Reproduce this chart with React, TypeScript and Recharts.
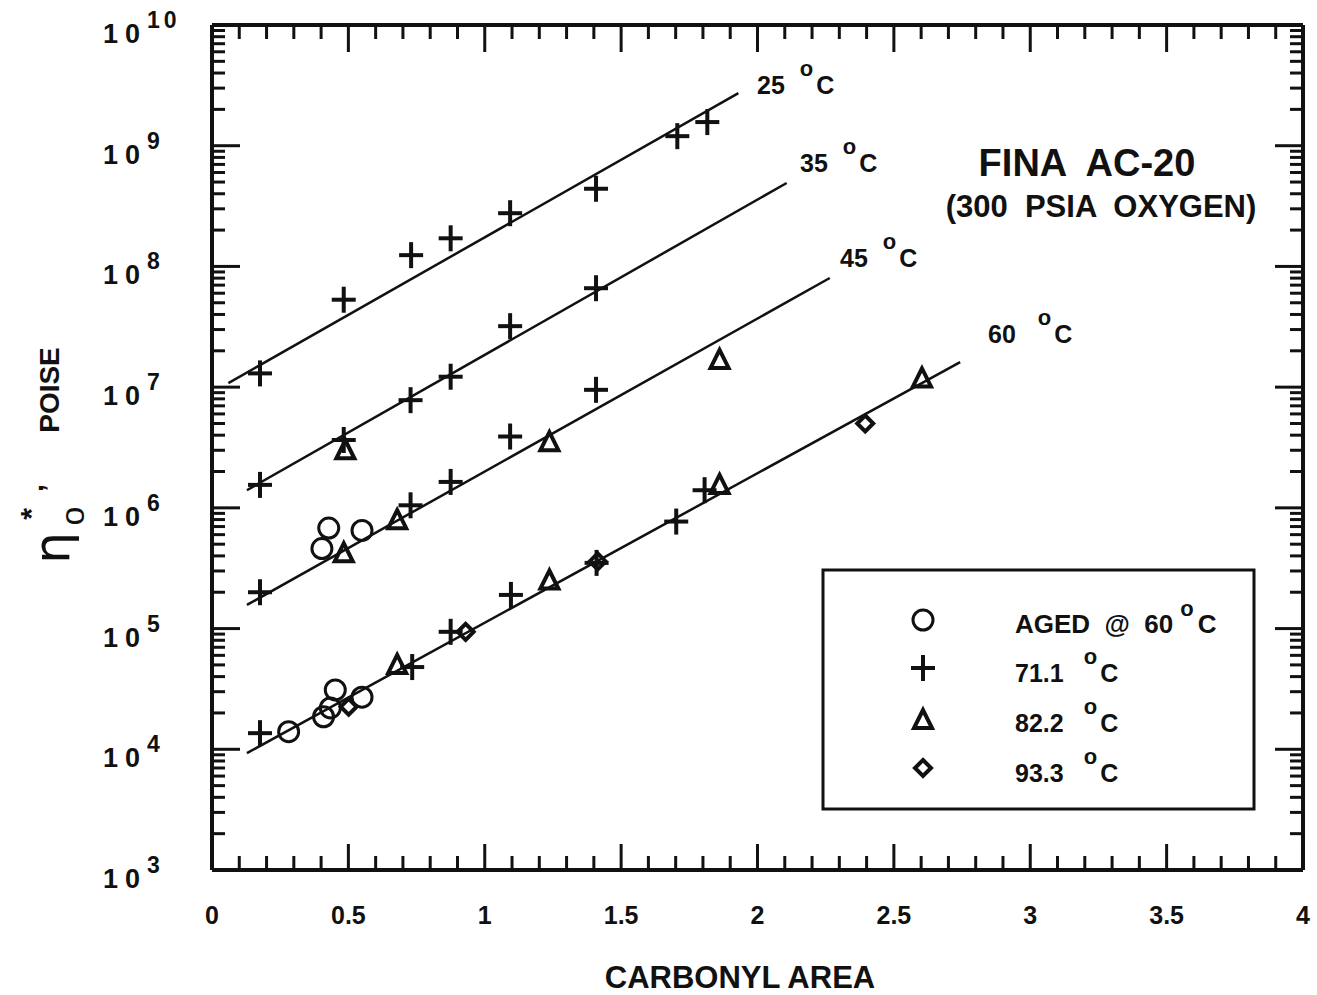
import React from 'react'
import { ComposedChart, Line, Scatter, XAxis, YAxis } from 'recharts'

const W = 1317
const H = 995
const ink = '#111'
const font = '"Liberation Sans", Arial, Helvetica, sans-serif'

// carbonyl area ticks (0.1 steps, labels every 0.5)
const xTicks = [
  0, 0.1, 0.2, 0.3, 0.4, 0.5, 0.6, 0.7, 0.8, 0.9, 1, 1.1, 1.2, 1.3, 1.4, 1.5, 1.6, 1.7, 1.8, 1.9, 2,
  2.1, 2.2, 2.3, 2.4, 2.5, 2.6, 2.7, 2.8, 2.9, 3, 3.1, 3.2, 3.3, 3.4, 3.5, 3.6, 3.7, 3.8, 3.9, 4,
]
const yDecades = [3, 4, 5, 6, 7, 8, 9]
const yMinor = [1, 2, 3, 4, 5, 6, 7, 8, 9]
const yTicks = yDecades.flatMap((d) => yMinor.map((m) => m * 10 ** d)).concat([1e10])

// 71.1 C (plus)
const plus711 = [
  { x: 0.176, y: 1.3e7 }, { x: 0.483, y: 5.3e7 }, { x: 0.73, y: 1.24e8 }, { x: 0.875, y: 1.71e8 },
  { x: 1.093, y: 2.76e8 }, { x: 1.408, y: 4.4e8 }, { x: 1.706, y: 1.2e9 }, { x: 1.816, y: 1.57e9 },
  { x: 0.176, y: 1.55e6 }, { x: 0.483, y: 3.65e6 }, { x: 0.728, y: 7.8e6 }, { x: 0.875, y: 1.22e7 },
  { x: 1.093, y: 3.2e7 }, { x: 1.408, y: 6.6e7 },
  { x: 0.176, y: 2.0e5 }, { x: 0.728, y: 1.05e6 }, { x: 0.875, y: 1.64e6 }, { x: 1.093, y: 3.9e6 },
  { x: 1.408, y: 9.5e6 },
  { x: 0.176, y: 1.36e4 }, { x: 0.734, y: 4.8e4 }, { x: 0.875, y: 9.4e4 }, { x: 1.096, y: 1.9e5 },
  { x: 1.41, y: 3.5e5 }, { x: 1.702, y: 7.7e5 }, { x: 1.806, y: 1.4e6 },
]
// aged @ 60 C (circle)
const aged60 = [
  { x: 0.281, y: 1.4e4 }, { x: 0.409, y: 1.86e4 }, { x: 0.434, y: 2.2e4 }, { x: 0.452, y: 3.1e4 },
  { x: 0.55, y: 2.7e4 }, { x: 0.403, y: 4.6e5 }, { x: 0.428, y: 6.8e5 }, { x: 0.55, y: 6.5e5 },
]
// 82.2 C (triangle)
const tri822 = [
  { x: 0.489, y: 3.0e6 }, { x: 0.483, y: 4.2e5 }, { x: 0.679, y: 7.9e5 }, { x: 1.237, y: 3.5e6 },
  { x: 1.861, y: 1.68e7 }, { x: 0.679, y: 5.0e4 }, { x: 1.237, y: 2.5e5 }, { x: 1.861, y: 1.55e6 },
  { x: 2.603, y: 1.18e7 },
]
// 93.3 C (diamond)
const dia933 = [
  { x: 0.501, y: 2.25e4 }, { x: 0.93, y: 9.4e4 }, { x: 1.414, y: 3.6e5 }, { x: 2.395, y: 5.0e6 },
]

// fitted lines
const fit25 = [{ x: 0.06, y: 1.08e7 }, { x: 1.93, y: 2.73e9 }]
const fit35 = [{ x: 0.128, y: 1.4e6 }, { x: 2.107, y: 4.91e8 }]
const fit45 = [{ x: 0.128, y: 1.57e5 }, { x: 2.265, y: 8.02e7 }]
const fit60 = [{ x: 0.128, y: 9.29e3 }, { x: 2.743, y: 1.61e7 }]

const isHalf = (v: number) => Math.abs(v * 2 - Math.round(v * 2)) < 1e-6
const isDecade = (v: number) => {
  const e = Math.log10(v)
  return Math.abs(e - Math.round(e)) < 1e-6
}

const PlusMark = ({ cx, cy }: any) => (
  <g stroke={ink} strokeWidth={4}>
    <line x1={cx - 12} x2={cx + 12} y1={cy} y2={cy} />
    <line x1={cx} x2={cx} y1={cy - 13} y2={cy + 13} />
  </g>
)
const CircleMark = ({ cx, cy }: any) => (
  <circle cx={cx} cy={cy} r={10} fill="none" stroke={ink} strokeWidth={3} />
)
const TriMark = ({ cx, cy }: any) => (
  <polygon
    points={`${cx},${cy - 10} ${cx - 9},${cy + 8} ${cx + 9},${cy + 8}`}
    fill="none"
    stroke={ink}
    strokeWidth={4}
    strokeLinejoin="miter"
  />
)
const DiaMark = ({ cx, cy }: any) => (
  <polygon
    points={`${cx},${cy - 8} ${cx + 8},${cy} ${cx},${cy + 8} ${cx - 8},${cy}`}
    fill="none"
    stroke={ink}
    strokeWidth={4}
  />
)

const BottomTick = ({ x, y, payload }: any) => {
  const major = isHalf(payload.value)
  return (
    <g>
      <line x1={x} x2={x} y1={y} y2={y - (major ? 26 : 14)} stroke={ink} strokeWidth={3} />
      {major && (
        <text x={x} y={y + 54} textAnchor="middle" fontFamily={font} fontWeight="bold" fontSize={25} fill={ink}>
          {String(payload.value)}
        </text>
      )}
    </g>
  )
}
const TopTick = ({ x, y, payload }: any) => {
  const major = isHalf(payload.value)
  return <line x1={x} x2={x} y1={y} y2={y + (major ? 27 : 14)} stroke={ink} strokeWidth={3} />
}
const LeftTick = ({ x, y, payload }: any) => {
  const major = isDecade(payload.value)
  const e = Math.round(Math.log10(payload.value))
  return (
    <g>
      <line x1={x} x2={x + (major ? 28 : 13)} y1={y} y2={y} stroke={ink} strokeWidth={3} />
      {major && (
        <text x={x - 109} y={y + 18} fontFamily={font} fontWeight="bold" fill={ink}>
          <tspan fontSize={27} letterSpacing={7}>10</tspan>
          <tspan fontSize={23} dy={-15} letterSpacing={e > 9 ? 4 : 0}>{String(e)}</tspan>
        </text>
      )}
    </g>
  )
}
const RightTick = ({ x, y, payload }: any) => {
  const major = isDecade(payload.value)
  return <line x1={x} x2={x - (major ? 28 : 13)} y1={y} y2={y} stroke={ink} strokeWidth={3} />
}

const axisStyle = { stroke: ink, strokeWidth: 4 }

const Deg = ({ x, y, num, gap }: any) => (
  <text x={x} y={y} fontFamily={font} fontWeight="bold" fill={ink}>
    <tspan fontSize={25}>{num}</tspan>
    <tspan fontSize={22} dx={gap} dy={-18}>o</tspan>
    <tspan fontSize={25} dx={3} dy={18}>C</tspan>
  </text>
)

export default function App() {
  return (
    <div style={{ position: 'absolute', left: 0, top: 0, width: W, height: H, background: '#fff' }}>
      <ComposedChart width={W} height={H} margin={{ top: 24, right: 13, bottom: 65, left: 102 }}>
        <XAxis
          type="number" dataKey="x" domain={[0, 4]} ticks={xTicks} interval={0} height={60}
          tickSize={0} tickMargin={0} tickLine={false} axisLine={axisStyle} allowDataOverflow
          tick={(p: any) => <BottomTick {...p} />}
        />
        <XAxis
          xAxisId="top" orientation="top" type="number" dataKey="x" domain={[0, 4]} ticks={xTicks}
          interval={0} height={1} tickSize={0} tickMargin={0} tickLine={false} axisLine={axisStyle}
          allowDataOverflow tick={(p: any) => <TopTick {...p} />}
        />
        <YAxis
          type="number" dataKey="y" scale="log" domain={[1e3, 1e10]} ticks={yTicks} interval={0}
          width={110} tickSize={0} tickMargin={0} tickLine={false} axisLine={axisStyle} allowDataOverflow
          tick={(p: any) => <LeftTick {...p} />}
        />
        <YAxis
          yAxisId="right" orientation="right" type="number" dataKey="y" scale="log" domain={[1e3, 1e10]}
          ticks={yTicks} interval={0} width={1} tickSize={0} tickMargin={0} tickLine={false}
          axisLine={axisStyle} allowDataOverflow tick={(p: any) => <RightTick {...p} />}
        />
        {[fit25, fit35, fit45, fit60].map((d, i) => (
          <Line
            key={i} data={d} dataKey="y" type="linear" stroke={ink} strokeWidth={2.5}
            dot={false} activeDot={false} isAnimationActive={false}
          />
        ))}
        {/* invisible series so the frame axes on top/right get laid out */}
        <Line
          xAxisId="top" yAxisId="right" data={fit25} dataKey="y" stroke="none" dot={false}
          activeDot={false} isAnimationActive={false}
        />
        <Scatter data={aged60} shape={(p: any) => <CircleMark {...p} />} isAnimationActive={false} />
        <Scatter data={plus711} shape={(p: any) => <PlusMark {...p} />} isAnimationActive={false} />
        <Scatter data={tri822} shape={(p: any) => <TriMark {...p} />} isAnimationActive={false} />
        <Scatter data={dia933} shape={(p: any) => <DiaMark {...p} />} isAnimationActive={false} />
      </ComposedChart>

      <svg width={W} height={H} style={{ position: 'absolute', left: 0, top: 0, pointerEvents: 'none' }}>
        <Deg x={757} y={94} num="25" gap={15} />
        <Deg x={800} y={172} num="35" gap={15} />
        <Deg x={840} y={267} num="45" gap={15} />
        <Deg x={988} y={343} num="60" gap={22} />

        <text x={1087} y={176} textAnchor="middle" fontFamily={font} fontWeight="bold" fontSize={38}
          fill={ink} style={{ whiteSpace: 'pre' }}>FINA  AC-20</text>
        <text x={1101} y={217} textAnchor="middle" fontFamily={font} fontWeight="bold" fontSize={31}
          fill={ink} style={{ whiteSpace: 'pre' }}>(300  PSIA  OXYGEN)</text>

        <rect x={823} y={570} width={431} height={239} fill="#fff" stroke={ink} strokeWidth={3} />
        <CircleMark cx={923} cy={620} />
        <PlusMark cx={923} cy={668} />
        <TriMark cx={923} cy={720} />
        <DiaMark cx={923} cy={768} />
        <g fontFamily={font} fontWeight="bold" fill={ink}>
          <text x={1015} y={633} style={{ whiteSpace: 'pre' }}>
            <tspan fontSize={26}>AGED  @  60</tspan>
            <tspan fontSize={22} dx={7} dy={-17}>o</tspan>
            <tspan fontSize={26} dx={4} dy={17}>C</tspan>
          </text>
          <Deg x={1015} y={682} num="71.1" gap={20} />
          <Deg x={1015} y={732} num="82.2" gap={20} />
          <Deg x={1015} y={782} num="93.3" gap={20} />
        </g>

        <text x={740} y={988} textAnchor="middle" fontFamily={font} fontWeight="bold" fontSize={31} fill={ink}>
          CARBONYL AREA
        </text>

        <g fill={ink}>
          <text transform="translate(49,390) rotate(-90)" textAnchor="middle" dominantBaseline="central"
            fontFamily={font} fontWeight="bold" fontSize={28}>POISE</text>
          <text transform="translate(52,548) rotate(-90)" textAnchor="middle" dominantBaseline="central"
            fontFamily='"DejaVu Sans", sans-serif' fontSize={50}>η</text>
          <text transform="translate(72,516) rotate(-90)" textAnchor="middle" dominantBaseline="central"
            fontFamily={font} fontSize={34}>o</text>
          <text transform="translate(30,514) rotate(-90)" textAnchor="middle" dominantBaseline="central"
            fontFamily={font} fontWeight="bold" fontSize={30}>*</text>
          <text transform="translate(33,488) rotate(-90)" textAnchor="middle" dominantBaseline="central"
            fontFamily={font} fontWeight="bold" fontSize={28}>,</text>
        </g>
      </svg>
    </div>
  )
}
